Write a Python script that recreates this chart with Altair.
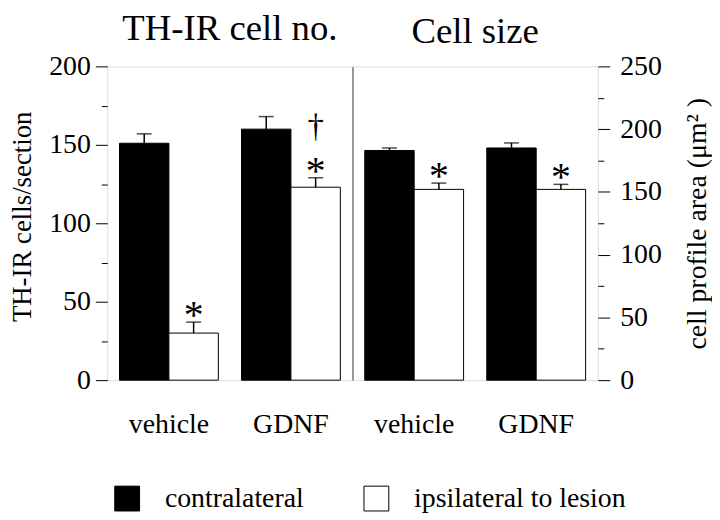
import altair as alt
import pandas as pd

FONT = "Liberation Serif"

treatments = ["vehicle", "GDNF"]
series = ["contralateral", "ipsilateral to lesion"]

cellno_contra = [151, 160]
cellno_contra_sem = [6, 8]
cellno_ipsi = [30, 123]
cellno_ipsi_sem = [7, 6]
cellno_star = ["*", "*"]
cellno_dagger = ["", "†"]

size_contra = [183, 185]
size_contra_sem = [2, 4]
size_ipsi = [152, 152]
size_ipsi_sem = [5, 4]
size_star = ["*", "*"]
size_dagger = ["", ""]

PLOT_H = 316
LINE_W = 1.3


def make_df(contra, contra_sem, ipsi, ipsi_sem, star, dagger):
    rows = []
    for i, t in enumerate(treatments):
        rows.append(dict(treatment=t, series=series[0], mean=contra[i],
                         upper=contra[i] + contra_sem[i], star="", dagger=""))
        rows.append(dict(treatment=t, series=series[1], mean=ipsi[i],
                         upper=ipsi[i] + ipsi_sem[i], star=star[i], dagger=dagger[i]))
    return pd.DataFrame(rows)


def panel(df, title, ymax, ytitle, orient, title_baseline, label_pad, title_pad,
          title_y, title_size, show_legend, divider):
    axis_kwargs = dict(
        orient=orient,
        values=list(range(0, ymax + 1, 25)),
        labelExpr="datum.value % 50 == 0 ? datum.label : ''",
        tickSize={"condition": {"test": "datum.value % 50 != 0", "value": 6}, "value": 12},
        tickColor="black", tickWidth=1, domain=False, grid=False,
        labelFont=FONT, labelFontSize=28, labelColor="black", labelPadding=label_pad,
        titleFont=FONT, titleFontSize=title_size, titleFontWeight="normal",
        titleColor="black", titleAngle=270, titleBaseline=title_baseline,
        titlePadding=title_pad,
    )
    if title_y is not None:
        axis_kwargs["titleY"] = title_y
    yaxis = alt.Axis(**axis_kwargs)
    if divider:
        div_axis = alt.Axis(orient="right", labels=False, ticks=False, grid=False,
                            domain=True, domainColor="black", domainWidth=LINE_W,
                            title=None)
    else:
        div_axis = None
    yscale = alt.Scale(domain=[0, ymax], nice=False, zero=True)
    base = alt.Chart(df).encode(
        x=alt.X("treatment:N", sort=treatments, title=None,
                scale=alt.Scale(paddingInner=0.19, paddingOuter=0.1),
                axis=alt.Axis(labelAngle=0, ticks=False, domain=False,
                              labelFont=FONT, labelFontSize=28, labelColor="black",
                              labelPadding=31)),
        xOffset=alt.XOffset("series:N", sort=series,
                            scale=alt.Scale(paddingInner=0, paddingOuter=0)),
    )
    if show_legend:
        legend = alt.Legend(
            title=None, orient="none", legendX=6, legendY=421, direction="horizontal",
            symbolType="square", symbolSize=625, symbolStrokeColor="black",
            symbolStrokeWidth=1, labelFont=FONT, labelFontSize=28, labelColor="black",
            columnPadding=58, labelOffset=24, padding=0, labelLimit=400,
        )
    else:
        legend = None
    bars = base.mark_bar(stroke="black", strokeWidth=1).encode(
        y=alt.Y("mean:Q", scale=yscale, axis=yaxis, title=ytitle),
        color=alt.Color("series:N", sort=series,
                        scale=alt.Scale(domain=series, range=["black", "white"]),
                        legend=legend),
    )
    err = base.mark_rule(color="black", strokeWidth=1.5).encode(
        y=alt.Y("mean:Q", scale=yscale, axis=div_axis), y2="upper:Q")
    cap = base.mark_tick(color="black", size=15, thickness=1.5).encode(
        y=alt.Y("upper:Q", scale=yscale, axis=None))
    star = base.mark_text(font=FONT, fontSize=40, color="black",
                          baseline="alphabetic", dy=6).encode(
        y=alt.Y("upper:Q", scale=yscale, axis=None), text="star:N")
    dagger = base.mark_text(font=FONT, fontSize=33, color="black",
                            baseline="alphabetic", dy=-41).encode(
        y=alt.Y("upper:Q", scale=yscale, axis=None), text="dagger:N")
    return alt.layer(bars, err, cap, star, dagger).resolve_axis(
        y="independent"
    ).properties(
        width=247, height=PLOT_H,
        title=alt.TitleParams(text=title, font=FONT, fontSize=37, fontWeight="normal",
                              color="black", anchor="middle", offset=2),
    )


left = panel(make_df(cellno_contra, cellno_contra_sem, cellno_ipsi, cellno_ipsi_sem,
                     cellno_star, cellno_dagger),
             "TH-IR cell no.", 200, "TH-IR cells/section", "left", "bottom",
             5, 12, PLOT_H / 2 - 7, 27, True, True)
right = panel(make_df(size_contra, size_contra_sem, size_ipsi, size_ipsi_sem,
                      size_star, size_dagger),
              "Cell size", 250, "cell profile area (μm²   )", "right", "top",
              10, 22, None, 28, False, False)

chart = alt.hconcat(left, right, spacing=0, bounds="flush").resolve_scale(
    y="independent"
).properties(
    padding={"left": 0, "top": 0, "right": 0, "bottom": 0}
).configure_view(stroke="black", strokeWidth=LINE_W).configure(background="white")

chart.save("out.html", embed_options={"renderer": "svg", "actions": False})
